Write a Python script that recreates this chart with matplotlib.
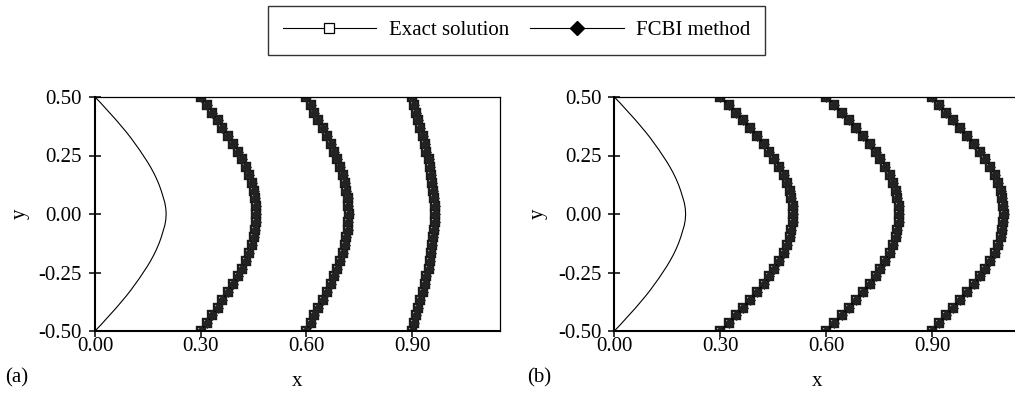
import matplotlib
matplotlib.use("Agg")
import matplotlib.pyplot as plt

plt.rcParams['font.family'] = ['Liberation Serif', 'DejaVu Serif']
plt.rcParams['font.size'] = 15

# y positions of the nodes (31 points)
y_nodes = [0.500, 0.467, 0.433, 0.400, 0.367, 0.333, 0.300, 0.267, 0.233, 0.200,
           0.167, 0.133, 0.100, 0.067, 0.033, 0.000, -0.033, -0.067, -0.100, -0.133,
           -0.167, -0.200, -0.233, -0.267, -0.300, -0.333, -0.367, -0.400, -0.433,
           -0.467, -0.500]

# initial profile (t = 0)
y_init = [0.500, 0.475, 0.450, 0.425, 0.400, 0.375, 0.350, 0.325, 0.300, 0.275, 0.250,
          0.225, 0.200, 0.175, 0.150, 0.125, 0.100, 0.075, 0.050, 0.025, 0.000,
          -0.025, -0.050, -0.075, -0.100, -0.125, -0.150, -0.175, -0.200, -0.225,
          -0.250, -0.275, -0.300, -0.325, -0.350, -0.375, -0.400, -0.425, -0.450,
          -0.475, -0.500]
x_init = [0.000, 0.016, 0.031, 0.046, 0.061, 0.075, 0.089, 0.102, 0.114, 0.126, 0.137,
          0.148, 0.158, 0.167, 0.175, 0.182, 0.188, 0.193, 0.198, 0.201, 0.202,
          0.201, 0.198, 0.193, 0.188, 0.182, 0.175, 0.167, 0.158, 0.148,
          0.137, 0.126, 0.114, 0.102, 0.089, 0.075, 0.061, 0.046, 0.031,
          0.016, 0.000]

# panel (a): exact and FCBI coincide
a_t1 = [0.300, 0.318, 0.332, 0.348, 0.362, 0.377, 0.391, 0.406, 0.417, 0.428, 0.438,
        0.445, 0.451, 0.455, 0.457, 0.457, 0.457, 0.455, 0.451, 0.445, 0.438, 0.428,
        0.417, 0.406, 0.391, 0.377, 0.362, 0.348, 0.332, 0.318, 0.300]
a_t2 = [0.600, 0.612, 0.623, 0.634, 0.646, 0.658, 0.669, 0.679, 0.688, 0.695, 0.703,
        0.710, 0.714, 0.717, 0.719, 0.720, 0.719, 0.717, 0.714, 0.710, 0.703, 0.695,
        0.688, 0.679, 0.669, 0.658, 0.646, 0.634, 0.623, 0.612, 0.600]
a_t3 = [0.900, 0.905, 0.911, 0.917, 0.924, 0.930, 0.936, 0.941, 0.947, 0.950, 0.955,
        0.958, 0.961, 0.963, 0.965, 0.965, 0.965, 0.963, 0.961, 0.958, 0.955, 0.950,
        0.947, 0.941, 0.936, 0.930, 0.924, 0.917, 0.911, 0.905, 0.900]

# panel (b)
b_t1 = [0.300, 0.324, 0.345, 0.365, 0.385, 0.404, 0.423, 0.439, 0.453, 0.467, 0.480,
        0.489, 0.497, 0.501, 0.505, 0.506, 0.505, 0.501, 0.497, 0.489, 0.480, 0.467,
        0.453, 0.439, 0.423, 0.404, 0.385, 0.365, 0.345, 0.324, 0.300]
b_t2 = [0.600, 0.623, 0.644, 0.664, 0.684, 0.704, 0.723, 0.740, 0.754, 0.768, 0.780,
        0.790, 0.798, 0.802, 0.806, 0.807, 0.806, 0.802, 0.798, 0.790, 0.780, 0.768,
        0.754, 0.740, 0.723, 0.704, 0.684, 0.664, 0.644, 0.623, 0.600]
b_t3 = [0.900, 0.921, 0.940, 0.959, 0.978, 0.999, 1.018, 1.037, 1.051, 1.065, 1.077,
        1.087, 1.094, 1.099, 1.102, 1.103, 1.102, 1.099, 1.094, 1.087, 1.077, 1.065,
        1.051, 1.037, 1.018, 0.999, 0.978, 0.959, 0.940, 0.921, 0.900]

x_ticks = [0.0, 0.3, 0.6, 0.9]
x_ticklabels = ["0.00", "0.30", "0.60", "0.90"]
y_ticks = [0.5, 0.25, 0.0, -0.25, -0.5]
y_ticklabels = ["0.50", "0.25", "0.00", "-0.25", "-0.50"]

W, H = 1015, 393
fig = plt.figure(figsize=(W / 100, H / 100), dpi=100)
ax_a = fig.add_axes([95 / W, 1 - 331 / H, 405 / W, 234 / H])
ax_b = fig.add_axes([614.3 / W, 1 - 331 / H, 406 / W, 234 / H])


def draw(ax, curves):
    ax.plot(x_init, y_init, color="black", lw=0.8)
    for xs in curves:
        # exact solution (open squares) and FCBI (filled diamonds) overlap
        ax.plot(xs, y_nodes, color="black", lw=0.8, marker="s", ms=5.4,
                mfc="white", mec="#1a1a1a", mew=1.7)
        ax.plot(xs, y_nodes, color="black", lw=0.8, marker="D", ms=5.0,
                mfc="#222222", mec="#222222", mew=0.5)
    ax.set_xlim(0, 1.15)
    ax.set_ylim(-0.5, 0.5)
    ax.set_xticks(x_ticks)
    ax.set_xticklabels(x_ticklabels)
    ax.set_yticks(y_ticks)
    ax.set_yticklabels(y_ticklabels)
    ax.tick_params(axis="y", direction="inout", length=8.6, width=1.1, pad=5)
    ax.tick_params(axis="x", direction="out", length=4.3, width=1.1, pad=0)
    for s in ("left", "bottom"):
        ax.spines[s].set_linewidth(1.5)
    for s in ("top", "right"):
        ax.spines[s].set_linewidth(0.9)


draw(ax_a, [a_t1, a_t2, a_t3])
draw(ax_b, [b_t1, b_t2, b_t3])

fig.text(297.5 / W, 1 - 381 / H, "x", ha="center", va="center")
fig.text(817 / W, 1 - 381 / H, "x", ha="center", va="center")
fig.text(20 / W, 1 - 214 / H, "y", rotation=90, ha="center", va="center")
fig.text(538 / W, 1 - 214 / H, "y", rotation=90, ha="center", va="center")
fig.text(5 / W, 1 - 378 / H, "(a)", ha="left", va="center")
fig.text(527 / W, 1 - 378 / H, "(b)", ha="left", va="center")

h_exact, = ax_a.plot([], [], color="black", lw=0.8, marker="s", ms=7,
                     mfc="white", mec="black", mew=0.9)
h_fcbi, = ax_a.plot([], [], color="black", lw=0.8, marker="D", ms=7,
                    mfc="black", mec="black")
leg = fig.legend([h_exact, h_fcbi], ["Exact solution", "FCBI method"],
                 loc="upper center", bbox_to_anchor=(516.5 / W, 1 - 6 / H),
                 ncol=2, frameon=True, fancybox=False, edgecolor="black",
                 handlelength=4.5, handletextpad=0.6, columnspacing=1.0,
                 borderpad=0.7, borderaxespad=0)
leg.get_frame().set_linewidth(1.0)

fig.savefig("out.png", dpi=100)
